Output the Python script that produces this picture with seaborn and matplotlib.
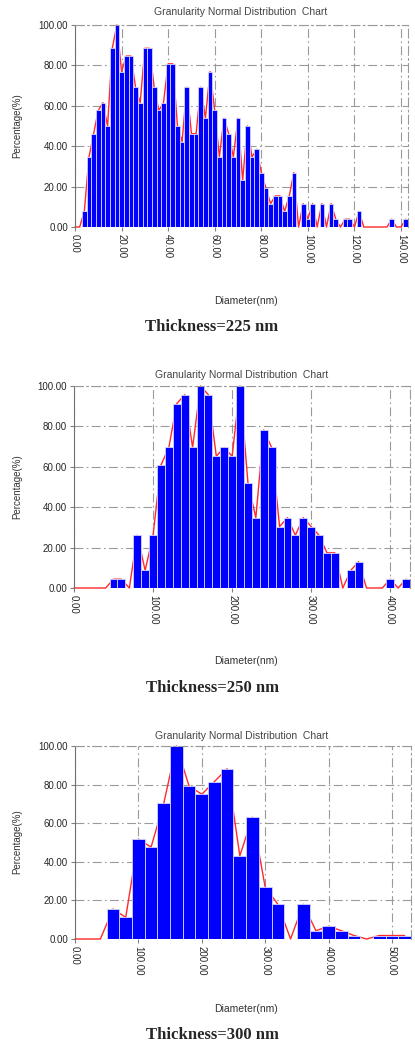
import numpy as np
import matplotlib
matplotlib.use("Agg")
import matplotlib.pyplot as plt
from matplotlib.ticker import FormatStrFormatter
import seaborn as sns

sns.set_style("white")
plt.rcParams['font.family'] = ['Liberation Sans', 'DejaVu Sans']

# Thickness = 225 nm  (bin centres every 2 nm, percentage of the largest bin)
d225 = np.arange(0, 144, 2)
p225 = [0, 0, 7.69, 34.62, 46.15, 57.69, 61.54, 50.0, 88.46, 100.0,
        76.92, 84.62, 84.62, 69.23, 61.54, 88.46, 88.46, 69.23, 57.69, 61.54,
        80.77, 80.77, 50.0, 42.31, 69.23, 46.15, 46.15, 69.23, 53.85, 76.92,
        57.69, 34.62, 53.85, 46.15, 34.62, 53.85, 23.08, 50.0, 34.62, 38.46,
        26.92, 19.23, 11.54, 15.38, 15.38, 7.69, 15.38, 26.92, 0, 11.54,
        3.85, 11.54, 0, 11.54, 0, 11.54, 3.85, 0, 3.85, 3.85,
        0, 7.69, 0, 0, 0, 0, 0, 0, 3.85, 0,
        0, 3.85]

# Thickness = 250 nm  (bins every 10 nm)
d250 = np.arange(0, 430, 10)
p250 = [0, 0, 0, 0, 0, 4.35, 4.35, 0, 26.09, 8.70,
        26.09, 60.87, 69.57, 91.30, 95.65, 69.57, 100.0, 95.65, 65.22, 69.57,
        65.22, 100.0, 52.17, 34.78, 78.26, 69.57, 30.43, 34.78, 26.09, 34.78,
        30.43, 26.09, 17.39, 17.39, 0, 8.70, 13.04, 0, 0, 0,
        4.35, 0, 4.35]

# Thickness = 300 nm  (bins every 20 nm)
d300 = np.arange(0, 540, 20)
p300 = [0, 0, 0, 15.5, 11.2, 51.8, 47.6, 70.3, 100.0, 79.2,
        75.0, 81.6, 88.2, 43.1, 63.1, 26.9, 18.0, 0, 18.0, 4.3,
        6.6, 4.3, 1.8, 0, 1.8, 1.8, 1.8]

labels = ["Thickness=225 nm", "Thickness=250 nm", "Thickness=300 nm"]
title = "Granularity Normal Distribution  Chart"

W, H = 415, 1046
fig = plt.figure(figsize=(W / 100, H / 100), dpi=100)


def add_ax(l, t, r, b):
    return fig.add_axes([l / W, 1 - b / H, (r - l) / W, (b - t) / H])


def txt(x, y, s, **kw):
    fig.text(x / W, 1 - y / H, s, ha='center', va='center', **kw)


def draw(ax, d, p, bw, xmax, xstep):
    sns.histplot(x=d, weights=p, binwidth=bw, binrange=(d[0] - bw / 2, d[-1] + bw / 2),
                 color='#0000ff', alpha=1, edgecolor='#d4d4ff', linewidth=0.6,
                 zorder=2, ax=ax)
    for bar in ax.patches:
        if bar.get_height() == 0:
            bar.set_visible(False)
    sns.lineplot(x=d, y=p, color='#ff2a2a', linewidth=1.0, zorder=1.5,
                 clip_on=False, ax=ax)

    ax.set_xlim(0, xmax)
    ax.set_ylim(0, 100)
    ax.set_xticks(np.arange(0, xmax, xstep))
    ax.set_yticks(np.arange(0, 101, 20))
    ax.xaxis.set_major_formatter(FormatStrFormatter('%.2f'))
    ax.yaxis.set_major_formatter(FormatStrFormatter('%.2f'))
    ax.set(xlabel='', ylabel='')
    ax.tick_params(axis='x', labelrotation=-90, labelsize=7, length=3, pad=2,
                   bottom=True, color='#808080')
    ax.tick_params(axis='y', labelsize=7, length=3, pad=2, left=True, color='#808080')

    ax.set_axisbelow(True)
    ax.grid(True, linestyle=(0, (8, 3, 1.5, 3)), color='#9a9a9a', linewidth=0.8)
    ax.spines['bottom'].set_visible(False)
    ax.spines['left'].set_color('#707070')
    for side in ['top', 'right']:
        ax.spines[side].set_linestyle((0, (8, 3, 1.5, 3)))
        ax.spines[side].set_color('#9a9a9a')
        ax.spines[side].set_linewidth(0.8)


# panel 1
ax1 = add_ax(75, 25, 408, 227)
draw(ax1, d225, p225, 2, 143, 20)
txt(241, 12, title, fontsize=7.5, color='#444444')
txt(17, 126, "Percentage(%)", fontsize=7, color='#333333', rotation=90)
txt(246, 301, "Diameter(nm)", fontsize=7.5, color='#333333')
txt(212, 327, labels[0], fontsize=12, fontweight='bold', family='Liberation Serif')

# panel 2
ax2 = add_ax(74, 386, 410, 588)
draw(ax2, d250, p250, 10, 425, 100)
txt(242, 375, title, fontsize=7.5, color='#444444')
txt(17, 487, "Percentage(%)", fontsize=7, color='#333333', rotation=90)
txt(246, 661, "Diameter(nm)", fontsize=7.5, color='#333333')
txt(212, 688, labels[1], fontsize=12, fontweight='bold', family='Liberation Serif')

# panel 3
ax3 = add_ax(75, 746, 411, 939)
draw(ax3, d300, p300, 20, 530, 100)
txt(242, 736, title, fontsize=7.5, color='#444444')
txt(17, 842, "Percentage(%)", fontsize=7, color='#333333', rotation=90)
txt(246, 1009, "Diameter(nm)", fontsize=7.5, color='#333333')
txt(212, 1035, labels[2], fontsize=12, fontweight='bold', family='Liberation Serif')

fig.savefig("out.png", dpi=100)
